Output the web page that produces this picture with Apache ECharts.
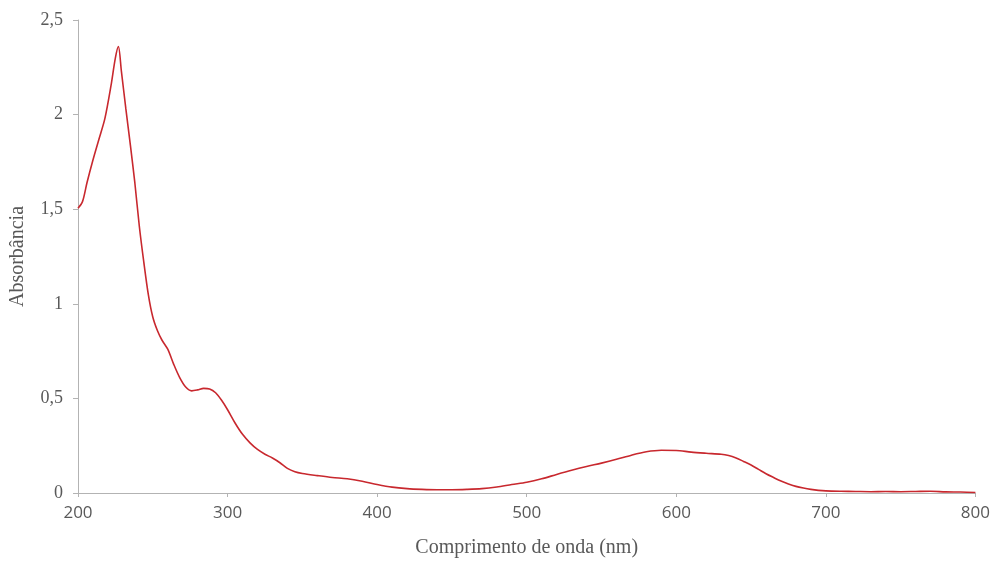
<!DOCTYPE html>
<html>
<head>
<meta charset="utf-8">
<script src="https://cdn.jsdelivr.net/npm/echarts@6/dist/echarts.min.js"></script>
<style>
  html, body { margin: 0; padding: 0; background: #ffffff; overflow: hidden; }
  #chart { width: 993px; height: 563px; }
</style>
</head>
<body>
<div id="chart"></div>
<script>
// UV-Vis absorption spectrum: wavelength (nm) and absorbance
const wavelength = [
  200, 203, 206, 210, 214, 218, 222, 225, 227, 229, 232, 235, 238, 241, 244, 247,
  250, 253, 256, 260, 264, 268, 272, 276, 280, 284, 288, 292, 296, 300, 305, 310,
  315, 320, 325, 330, 335, 340, 345, 350, 360, 370, 380, 390, 400, 410, 420, 430,
  440, 450, 460, 470, 480, 490, 500, 510, 520, 530, 540, 550, 560, 570, 580, 590,
  600, 610, 620, 630, 635, 640, 645, 650, 655, 660, 665, 670, 675, 680, 685, 690,
  695, 700, 710, 720, 730, 740, 750, 760, 770, 780, 790, 800
];
const absorbance = [
  1.505, 1.54, 1.64, 1.76, 1.87, 1.98, 2.15, 2.30, 2.36, 2.23, 2.03, 1.84, 1.64, 1.41, 1.22, 1.05,
  0.93, 0.86, 0.81, 0.76, 0.68, 0.61, 0.56, 0.54, 0.545, 0.553, 0.55, 0.53, 0.49, 0.44, 0.37, 0.31,
  0.265, 0.23, 0.205, 0.185, 0.16, 0.13, 0.112, 0.103, 0.092, 0.082, 0.075, 0.062, 0.045, 0.031, 0.023, 0.019,
  0.017, 0.017, 0.019, 0.023, 0.032, 0.045, 0.057, 0.075, 0.098, 0.12, 0.14, 0.158, 0.178, 0.2, 0.218, 0.226,
  0.225, 0.216, 0.21, 0.205, 0.198, 0.185, 0.167, 0.148, 0.125, 0.102, 0.082, 0.063, 0.048, 0.035, 0.026, 0.019,
  0.014, 0.011, 0.009, 0.008, 0.007, 0.008, 0.007, 0.008, 0.009, 0.006, 0.005, 0.003
];

const xTitle = 'Comprimento de onda (nm)';
const yTitle = 'Absorbância';

const chart = echarts.init(document.getElementById('chart'));
chart.setOption({
  animation: false,
  backgroundColor: '#ffffff',
  grid: { left: 78, right: 17, top: 20, bottom: 62, containLabel: false },
  xAxis: {
    type: 'value',
    min: 200, max: 800, interval: 100,
    name: xTitle,
    nameLocation: 'middle',
    nameGap: 45,
    nameTextStyle: { fontFamily: 'Liberation Serif', fontSize: 20, color: '#595959' },
    axisLine: { show: true, lineStyle: { color: '#b3b3b3', width: 1 } },
    axisTick: { show: true, length: 4, lineStyle: { color: '#b3b3b3' } },
    axisLabel: { fontFamily: 'Open Sans', fontSize: 17, color: '#595959', margin: 12 },
    splitLine: { show: false }
  },
  yAxis: {
    type: 'value',
    min: 0, max: 2.5, interval: 0.5,
    name: yTitle,
    nameLocation: 'middle',
    nameGap: 50,
    nameTextStyle: { fontFamily: 'Liberation Serif', fontSize: 20, color: '#595959' },
    axisLine: { show: true, lineStyle: { color: '#b3b3b3', width: 1 } },
    axisTick: { show: true, length: 5, lineStyle: { color: '#b3b3b3' } },
    axisLabel: {
      fontFamily: 'Liberation Serif', fontSize: 18, color: '#595959', margin: 15,
      formatter: v => String(v).replace('.', ',')
    },
    splitLine: { show: false }
  },
  series: [{
    type: 'line',
    data: wavelength.map((w, i) => [w, absorbance[i]]),
    smooth: 0.3,
    showSymbol: false,
    lineStyle: { color: '#c8282e', width: 1.6 }
  }]
});
</script>
</body>
</html>
